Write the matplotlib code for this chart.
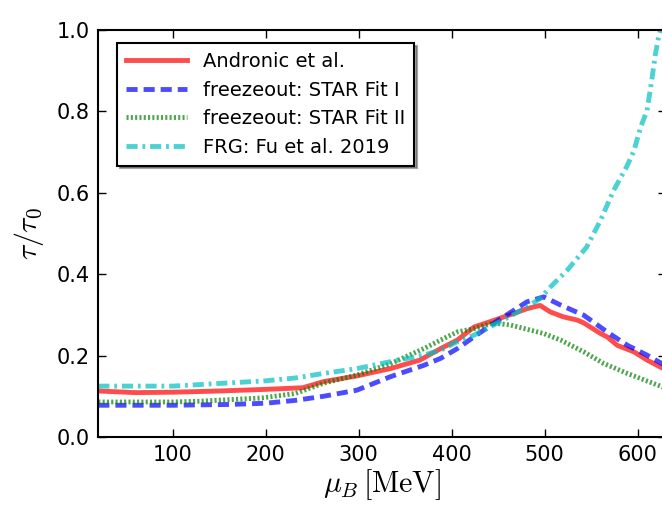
import matplotlib
matplotlib.use('Agg')
import matplotlib.pyplot as plt

plt.rcParams['mathtext.fontset'] = 'cm'
plt.rcParams['lines.scale_dashes'] = False

# Andronic et al.
mu_andronic = [20, 60, 100, 150, 200, 240, 262, 298, 334, 366, 388, 406, 424, 441, 460,
               481, 495, 506, 520, 535, 542, 560, 567, 578, 596, 610, 630]
tau_andronic = [0.113, 0.109, 0.110, 0.113, 0.117, 0.121, 0.136, 0.150, 0.168, 0.189, 0.217,
                0.238, 0.270, 0.283, 0.298, 0.315, 0.323, 0.307, 0.295, 0.287, 0.280, 0.254,
                0.246, 0.225, 0.209, 0.189, 0.165]

# freezeout: STAR Fit I
mu_fit1 = [20, 100, 162, 200, 232, 262, 298, 334, 370, 388, 406, 424, 445, 481, 499,
           517, 542, 567, 589, 610, 630]
tau_fit1 = [0.078, 0.078, 0.080, 0.083, 0.090, 0.100, 0.115, 0.148, 0.176, 0.193, 0.217,
            0.246, 0.279, 0.332, 0.344, 0.324, 0.299, 0.258, 0.225, 0.201, 0.175]

# freezeout: STAR Fit II
mu_fit2 = [20, 100, 130, 196, 232, 262, 298, 334, 370, 388, 406, 424, 445, 463, 499,
           517, 542, 563, 589, 630]
tau_fit2 = [0.086, 0.086, 0.088, 0.096, 0.107, 0.132, 0.152, 0.180, 0.217, 0.238, 0.258,
            0.266, 0.280, 0.275, 0.254, 0.238, 0.209, 0.181, 0.156, 0.120]

# FRG: Fu et al. 2019
mu_frg = [20, 100, 200, 232, 262, 298, 334, 370, 388, 406, 424, 445, 481, 495, 506, 524,
          545, 560, 574, 588, 596, 603, 610, 615, 619, 623, 627]
tau_frg = [0.125, 0.125, 0.138, 0.145, 0.156, 0.168, 0.185, 0.201, 0.213, 0.234, 0.250,
           0.275, 0.319, 0.340, 0.368, 0.409, 0.466, 0.532, 0.605, 0.663, 0.703, 0.760,
           0.801, 0.875, 0.940, 0.989, 1.020]

fig = plt.figure(figsize=(6.62, 5.07), dpi=100)
ax = fig.add_axes([0.1485, 0.138, 0.857, 0.8036])

lw = 3.5
ax.plot(mu_andronic, tau_andronic, color='r', alpha=0.7, lw=lw, label='Andronic et al.')
ax.plot(mu_fit1, tau_fit1, color='b', alpha=0.7, lw=lw, dashes=(8, 4.3),
        label='freezeout: STAR Fit I')
ax.plot(mu_fit2, tau_fit2, color='g', alpha=0.7, lw=lw, dashes=(1.5, 1.6),
        label='freezeout: STAR Fit II')
ax.plot(mu_frg, tau_frg, color='c', alpha=0.7, lw=lw, dashes=(8, 3.5, 2, 3.5),
        label='FRG: Fu et al. 2019')

ax.set_xlim(20, 630)
ax.set_ylim(0, 1.0)
ax.set_xticks([100, 200, 300, 400, 500, 600])
ax.set_yticks([0.0, 0.2, 0.4, 0.6, 0.8, 1.0])
ax.tick_params(direction='in', length=6, width=1, top=True, right=True,
               labelsize=15, pad=6)
for s in ax.spines.values():
    s.set_linewidth(1.5)

ax.set_xlabel(r'$\mu_B\,[\mathrm{MeV}]$', fontsize=21.5, labelpad=1)
ax.set_ylabel(r'$\tau/\tau_0$', fontsize=21.5, labelpad=8)

leg = ax.legend(loc='upper left', bbox_to_anchor=(0.033, 0.967), borderaxespad=0,
                fontsize=14, shadow=True, fancybox=False, frameon=True,
                handlelength=3.15, handletextpad=0.82, labelspacing=0.5,
                borderpad=0.45)
leg.get_frame().set_edgecolor('black')
leg.get_frame().set_linewidth(1.5)

fig.savefig('out.png', dpi=100)
